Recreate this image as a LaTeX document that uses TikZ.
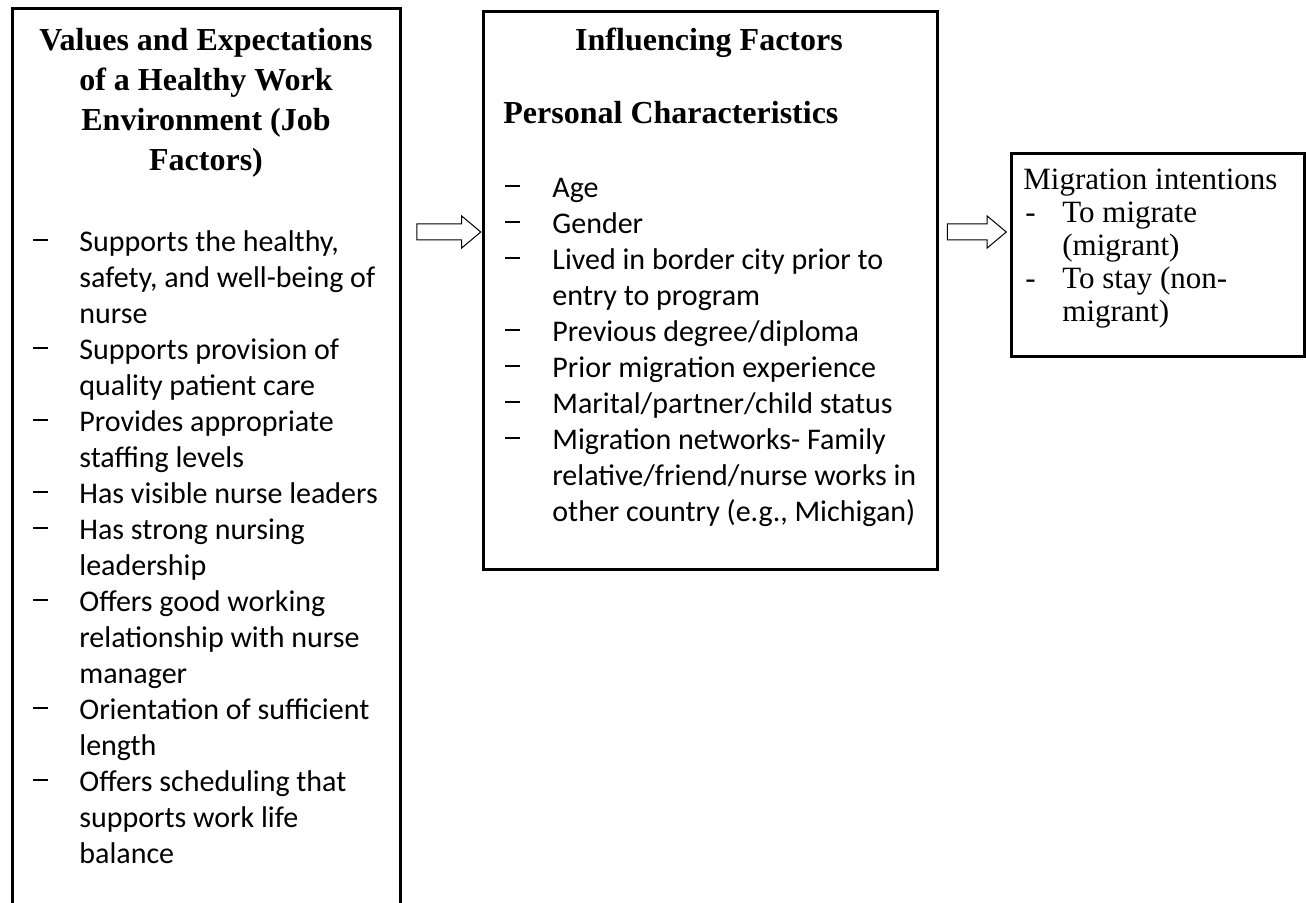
\documentclass[tikz,border=0pt]{standalone}
\usepackage{fontspec}
\setmainfont{Liberation Serif}
\newfontfamily\calfont{Carlito}
\usetikzlibrary{shapes.arrows}

\newcommand{\hdfont}{\fontsize{16}{20}\selectfont\bfseries}
\newcommand{\lsfont}{\calfont\fontsize{15}{18}\selectfont}
\newcommand{\rtfont}{\fontsize{15.5}{16.5}\selectfont}
\newcommand{\dsh}{\raisebox{5.3pt}{\rule{7.5pt}{0.8pt}}}

\begin{document}
\begin{tikzpicture}[x=0.5pt,y=-0.5pt,
    frame/.style={draw, line width=1.5pt},
    txt/.style={inner sep=0pt},
    blockarrow/.style={single arrow, draw, line width=0.5pt, inner sep=3.75pt,
      single arrow head extend=4pt, single arrow tip angle=80, minimum height=#1}]
  \useasboundingbox (0,0) rectangle (1306,903);

  % job factors box (runs off the page at the bottom)
  \draw [frame] (12,903) -- (12,9) -- (400,9) -- (400,903);
  \node [txt, anchor=north, font=\hdfont] (jobhead) at (206,22)
    {\begin{tabular}{@{}c@{}}Values and Expectations\\ of a Healthy Work\\ Environment (Job\\ Factors)\end{tabular}};
  \node [txt, anchor=north west, font=\lsfont] (joblist) at (33,226)
    {\begin{tabular}{@{}p{23pt}@{}l@{}}
     \dsh & Supports the healthy,\\ & safety, and well-being of\\ & nurse\\
     \dsh & Supports provision of\\ & quality patient care\\
     \dsh & Provides appropriate\\ & staffing levels\\
     \dsh & Has visible nurse leaders\\
     \dsh & Has strong nursing\\ & leadership\\
     \dsh & Offers good working\\ & relationship with nurse\\ & manager\\
     \dsh & Orientation of sufficient\\ & length\\
     \dsh & Offers scheduling that\\ & supports work life\\ & balance
     \end{tabular}};

  % influencing factors box
  \node [frame, anchor=north west, minimum width=227pt, minimum height=279pt] (factors) at (482,10) {};
  \node [txt, anchor=north, font=\hdfont] (inflhead) at (709,22) {\begin{tabular}{@{}c@{}}Influencing Factors\end{tabular}};
  \node [txt, anchor=north west, font=\hdfont] (pershead) at (503,95) {\begin{tabular}{@{}l@{}}Personal Characteristics\end{tabular}};
  \node [txt, anchor=north west, font=\lsfont] (perslist) at (505,172)
    {\begin{tabular}{@{}p{23.5pt}@{}l@{}}
     \dsh & Age\\
     \dsh & Gender\\
     \dsh & Lived in border city prior to\\ & entry to program\\
     \dsh & Previous degree/diploma\\
     \dsh & Prior migration experience\\
     \dsh & Marital/partner/child status\\
     \dsh & Migration networks- Family\\ & relative/friend/nurse works in\\ & other country (e.g., Michigan)
     \end{tabular}};

  % migration intentions box
  \node [frame, anchor=north west, minimum width=146.5pt, minimum height=101.5pt] (intent) at (1010,152) {};
  \node [txt, anchor=north west, font=\rtfont] (intentlist) at (1023,166)
    {\begin{tabular}{@{}p{19.5pt}@{}l@{}}
     \multicolumn{2}{@{}l@{}}{Migration intentions}\\
     \hspace{1pt}- & To migrate\\ & (migrant)\\
     \hspace{1pt}- & To stay (non-\\ & migrant)
     \end{tabular}};

  % block arrows
  \node [blockarrow=32pt] (arrowA) at (444,232) {};
  \node [blockarrow=29.5pt] (arrowB) at (972,232) {};
\end{tikzpicture}
\end{document}
